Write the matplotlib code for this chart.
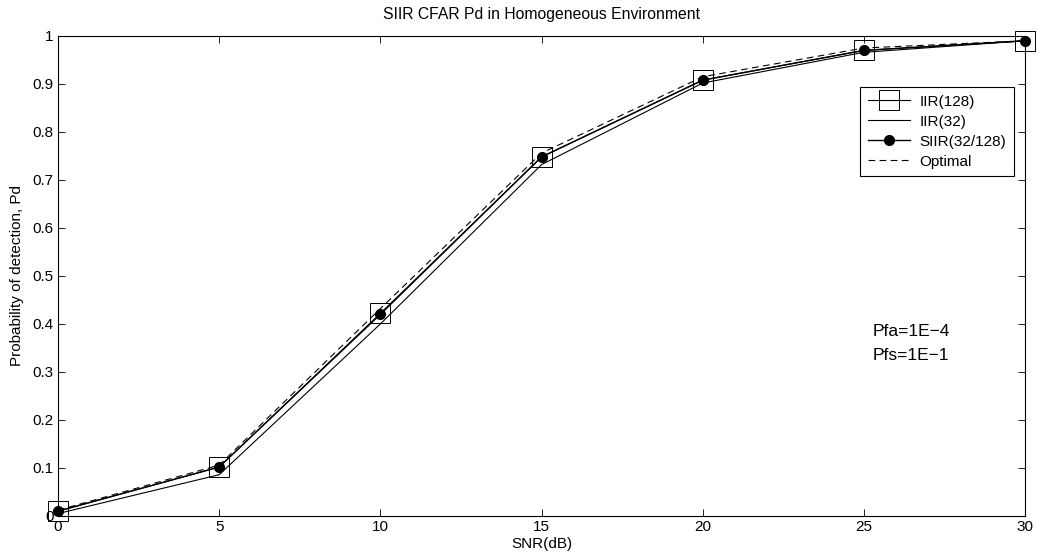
import matplotlib
matplotlib.use("Agg")
import matplotlib.pyplot as plt

plt.rcParams['font.family'] = ['Liberation Sans', 'DejaVu Sans']

snr = [0, 5, 10, 15, 20, 25, 30]
iir128 = [0.01, 0.102, 0.422, 0.748, 0.908, 0.970, 0.990]
iir32 = [0.005, 0.086, 0.400, 0.732, 0.902, 0.966, 0.990]
siir = [0.01, 0.102, 0.420, 0.748, 0.908, 0.970, 0.990]
optimal = [0.012, 0.106, 0.432, 0.756, 0.915, 0.975, 0.990]

xticks = [0, 5, 10, 15, 20, 25, 30]
yticks = [0, 0.1, 0.2, 0.3, 0.4, 0.5, 0.6, 0.7, 0.8, 0.9, 1]
yticklabels = ['0', '0.1', '0.2', '0.3', '0.4', '0.5', '0.6', '0.7', '0.8', '0.9', '1']

fig = plt.figure(figsize=(10.38, 5.58), dpi=100)
ax = fig.add_axes([0.0559, 0.0753, 0.9316, 0.8602])

ax.plot(snr, iir128, color='black', lw=0.8, marker='s', markersize=14,
        markerfacecolor='none', markeredgecolor='black', markeredgewidth=0.7,
        label='IIR(128)', clip_on=False)
ax.plot(snr, iir32, color='black', lw=0.8, label='IIR(32)')
ax.plot(snr, siir, color='black', lw=1.0, marker='o', markersize=7,
        markerfacecolor='black', label='SIIR(32/128)', clip_on=False)
ax.plot(snr, optimal, color='black', lw=0.8, ls=(0, (6, 4)), label='Optimal')

ax.set_xlim(0, 30)
ax.set_ylim(0, 1)
ax.set_xticks(xticks)
ax.set_yticks(yticks)
ax.set_yticklabels(yticklabels)
ax.tick_params(direction='in', top=True, right=True, labelsize=11, length=5, width=0.6, pad=3)
for s in ax.spines.values():
    s.set_linewidth(0.8)

ax.set_title('SIIR CFAR Pd in Homogeneous Environment', fontsize=11.3, pad=12)
ax.set_xlabel('SNR(dB)', fontsize=11, labelpad=2)
ax.set_ylabel('Probability of detection, Pd', fontsize=11, labelpad=6)

leg = ax.legend(loc='upper right', bbox_to_anchor=(0.9886, 0.894), fontsize=11,
                frameon=True, fancybox=False, edgecolor='black', framealpha=1,
                handlelength=2.8, borderpad=0.5, labelspacing=0.4, handletextpad=0.6,
                borderaxespad=0)
leg.get_frame().set_linewidth(0.8)

ax.text(0.842, 0.385, 'Pfa=1E\u22124', transform=ax.transAxes, fontsize=12.5, va='center')
ax.text(0.842, 0.335, 'Pfs=1E\u22121', transform=ax.transAxes, fontsize=12.5, va='center')

fig.savefig('out.png', dpi=100)
